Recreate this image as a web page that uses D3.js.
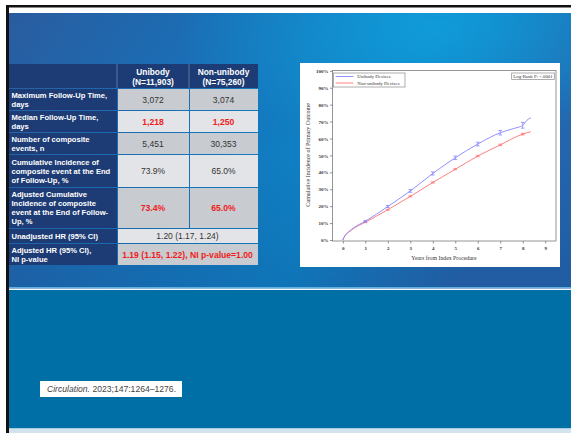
<!DOCTYPE html>
<html>
<head>
<meta charset="utf-8">
<script src="https://cdn.jsdelivr.net/npm/d3@7"></script>
<style>
  body { margin: 0; background: #fff; }
  svg { display: block; }
</style>
</head>
<body>
<svg width="571" height="433"></svg>
<script>
// ---- table data ----
const columnHeaders = [["Unibody", "(N=11,903)"], ["Non-unibody", "(N=75,260)"]];
const rowLabels = [
  ["Maximum Follow-Up Time,", "days"],
  ["Median Follow-Up Time,", "days"],
  ["Number of composite", "events, n"],
  ["Cumulative Incidence of", "composite event at the End", "of Follow-Up, %"],
  ["Adjusted Cumulative", "Incidence of composite", "event at the End of Follow-", "Up, %"],
  ["Unadjusted HR (95% CI)"],
  ["Adjusted HR (95% CI),", "NI p-value"]
];
const unibodyValues = ["3,072", "1,218", "5,451", "73.9%", "73.4%"];
const nonUnibodyValues = ["3,074", "1,250", "30,353", "65.0%", "65.0%"];
const hrValues = ["1.20 (1.17, 1.24)", "1.19 (1.15, 1.22), NI p-value=1.00"];
const redRows = [1, 4, 6];

// ---- chart data (cumulative incidence, %) ----
const unibodyYears = [0, 0.1, 0.25, 0.5, 1, 2, 3, 4, 5, 6, 7, 7.6, 8, 8.18, 8.36];
const unibodyPct = [0, 2.8, 4.8, 7.4, 11.1, 19.8, 29.0, 39.3, 48.6, 56.7, 63.4, 65.9, 67.8, 70.7, 72.3];
const nonUnibodyYears = [0, 0.1, 0.25, 0.5, 1, 2, 3, 4, 5, 6, 7, 8, 8.36];
const nonUnibodyPct = [0, 2.6, 4.5, 7.0, 10.5, 17.9, 25.8, 34.0, 41.8, 49.6, 56.2, 62.6, 64.0];
const ciYears = [1, 2, 3, 4, 5, 6, 7, 8];
const unibodyCI = [0.5, 0.6, 0.8, 0.9, 1.0, 1.1, 1.3, 1.7];
const nonUnibodyCI = [0.25, 0.3, 0.3, 0.35, 0.35, 0.4, 0.45, 0.5];
const xTicks = [0, 1, 2, 3, 4, 5, 6, 7, 8, 9];
const yTicks = [0, 10, 20, 30, 40, 50, 60, 70, 80, 90, 100];
const seriesNames = ["Unibody Devices", "Non-unibody Devices"];
const logRankText = "Log-Rank P: <.0001";
const citation = ["Circulation.", " 2023;147:1264\u20131276."];

const svg = d3.select("svg");
const defs = svg.append("defs");

// ---- slide background ----
const bg = defs.append("linearGradient").attr("id", "bg").attr("x1", 0).attr("y1", 0).attr("x2", 1).attr("y2", 0.3);
bg.append("stop").attr("offset", 0).attr("stop-color", "#2a5c9f");
bg.append("stop").attr("offset", 0.3).attr("stop-color", "#1c6cb3");
bg.append("stop").attr("offset", 0.72).attr("stop-color", "#0b86c9");
bg.append("stop").attr("offset", 1).attr("stop-color", "#2465ac");
const glow = defs.append("radialGradient").attr("id", "glow").attr("cx", 0.75).attr("cy", 0.05).attr("r", 0.45);
glow.append("stop").attr("offset", 0).attr("stop-color", "#12a0dc").attr("stop-opacity", 0.8);
glow.append("stop").attr("offset", 1).attr("stop-color", "#12a0dc").attr("stop-opacity", 0);
const shade = defs.append("linearGradient").attr("id", "shade").attr("x1", 0).attr("y1", 0).attr("x2", 0).attr("y2", 1);
shade.append("stop").attr("offset", 0.5).attr("stop-color", "#1a3f80").attr("stop-opacity", 0);
shade.append("stop").attr("offset", 1).attr("stop-color", "#1a3f80").attr("stop-opacity", 0.25);

svg.append("rect").attr("x", 6).attr("y", 5).attr("width", 565).attr("height", 2.5).attr("fill", "#111");
svg.append("rect").attr("x", 6).attr("y", 5).attr("width", 3).attr("height", 428).attr("fill", "#111");
svg.append("rect").attr("x", 9).attr("y", 13).attr("width", 562).attr("height", 276).attr("fill", "url(#bg)");
svg.append("rect").attr("x", 9).attr("y", 13).attr("width", 562).attr("height", 276).attr("fill", "url(#glow)");
svg.append("rect").attr("x", 9).attr("y", 13).attr("width", 562).attr("height", 276).attr("fill", "url(#shade)");
svg.append("rect").attr("x", 9).attr("y", 287).attr("width", 562).attr("height", 1.2).attr("fill", "#5fb0e0");
svg.append("rect").attr("x", 9).attr("y", 288.5).attr("width", 562).attr("height", 1.2).attr("fill", "#f2f8fc");
svg.append("rect").attr("x", 9).attr("y", 290).attr("width", 562).attr("height", 138.5).attr("fill", "#006fa6");
svg.append("rect").attr("x", 9).attr("y", 428.5).attr("width", 562).attr("height", 5).attr("fill", "#d3e3ee");

// citation
svg.append("rect").attr("x", 40).attr("y", 381).attr("width", 142).attr("height", 16).attr("fill", "#fff");
const cit = svg.append("text").attr("x", 47).attr("y", 392).attr("font-family", "Liberation Sans, Arial, sans-serif")
  .attr("font-size", 8.6).attr("fill", "#444");
cit.append("tspan").attr("font-style", "italic").text(citation[0]);
cit.append("tspan").text(citation[1]);

// ---- table ----
const tableFont = "Liberation Sans, Arial, sans-serif";
const navy = "#1d3b74";
const cellDark = "#c8cbd0";
const cellLight = "#e3e4e7";
const colX = [9, 117, 189, 258];
const rowH = [24, 21, 21, 21, 32, 40, 14, 21];
const rowY = [];
rowH.reduce((y, h) => { rowY.push(y); return y + h + 1; }, 64);
const lineH = 9;

const table = svg.append("g");
// header
table.append("rect").attr("x", colX[0]).attr("y", rowY[0]).attr("width", colX[3] - colX[0]).attr("height", rowH[0]).attr("fill", navy);
columnHeaders.forEach((lines, c) => {
  const cx = (colX[c + 1] + colX[c + 2]) / 2;
  table.append("text").attr("x", cx).attr("y", rowY[0] + 10.5).attr("text-anchor", "middle")
    .attr("font-family", tableFont).attr("font-weight", "bold").attr("font-size", 8.4).attr("fill", "#fff")
    .selectAll("tspan").data(lines).join("tspan").attr("x", cx).attr("dy", (d, i) => i ? 10 : 0).text(d => d);
});
table.append("line").attr("x1", colX[1]).attr("x2", colX[1]).attr("y1", rowY[0]).attr("y2", rowY[0] + rowH[0]).attr("stroke", "#6f86ad").attr("stroke-width", 0.8);
table.append("line").attr("x1", colX[2]).attr("x2", colX[2]).attr("y1", rowY[0]).attr("y2", rowY[0] + rowH[0]).attr("stroke", "#6f86ad").attr("stroke-width", 0.8);

rowLabels.forEach((lines, r) => {
  const y0 = rowY[r + 1], h = rowH[r + 1];
  const cy = y0 + h / 2;
  const fill = r % 2 === 0 ? cellDark : cellLight;
  const isRed = redRows.includes(r);
  table.append("rect").attr("x", colX[0]).attr("y", y0).attr("width", colX[1] - colX[0]).attr("height", h).attr("fill", navy);
  const firstBase = cy - (lines.length - 1) * lineH / 2 + 2.8;
  table.append("text").attr("font-family", tableFont).attr("font-weight", "bold").attr("font-size", 7.6).attr("fill", "#fff")
    .selectAll("tspan").data(lines).join("tspan").attr("x", colX[0] + 2.5).attr("y", (d, i) => firstBase + i * lineH).text(d => d);

  const valStyle = t => t.attr("text-anchor", "middle").attr("font-family", tableFont)
    .attr("font-size", isRed ? 8.6 : 8.5).attr("font-weight", isRed ? "bold" : "normal")
    .attr("fill", isRed ? "#f01c1c" : "#333");
  if (r < unibodyValues.length) {
    [unibodyValues[r], nonUnibodyValues[r]].forEach((v, c) => {
      table.append("rect").attr("x", colX[c + 1] + 1).attr("y", y0).attr("width", colX[c + 2] - colX[c + 1] - 1).attr("height", h).attr("fill", fill);
      table.append("text").attr("x", (colX[c + 1] + colX[c + 2]) / 2).attr("y", cy + 3).call(valStyle).text(v);
    });
  } else {
    table.append("rect").attr("x", colX[1] + 1).attr("y", y0).attr("width", colX[3] - colX[1] - 1).attr("height", h).attr("fill", fill);
    table.append("text").attr("x", (colX[1] + colX[3]) / 2).attr("y", cy + 3).call(valStyle).text(hrValues[r - unibodyValues.length]);
  }
});

// ---- KM chart ----
svg.append("rect").attr("x", 300).attr("y", 63).attr("width", 260).attr("height", 204).attr("fill", "#fff");

const plot = { left: 332.5, right: 556, top: 70.5, bottom: 241 };
const x = d3.scaleLinear().domain([-0.46, 9.48]).range([plot.left, plot.right]);
const y = d3.scaleLinear().domain([0, 100]).range([240, 70.8]);
const serif = "Liberation Serif, Times New Roman, serif";
const blue = "#8484ff";
const red = "#ff7474";

const chart = svg.append("g");
chart.append("rect").attr("x", plot.left).attr("y", plot.top).attr("width", plot.right - plot.left).attr("height", plot.bottom - plot.top)
  .attr("fill", "none").attr("stroke", "#8a8a8a").attr("stroke-width", 0.9);

const yAxisG = chart.append("g").attr("transform", `translate(${plot.left},0)`)
  .call(d3.axisLeft(y).tickValues(yTicks).tickSize(2.5).tickPadding(1.5).tickFormat(d => d + "%"));
const xAxisG = chart.append("g").attr("transform", `translate(0,${plot.bottom})`)
  .call(d3.axisBottom(x).tickValues(xTicks).tickSize(2.5).tickPadding(3));
[yAxisG, xAxisG].forEach(g => {
  g.select(".domain").remove();
  g.selectAll("line").attr("stroke", "#666").attr("stroke-width", 0.7);
  g.selectAll("text").attr("font-family", serif).attr("font-size", 5).attr("font-weight", "bold").attr("fill", "#333");
});

chart.append("text").attr("x", 444).attr("y", 260).attr("text-anchor", "middle")
  .attr("font-family", serif).attr("font-size", 5.8).attr("fill", "#333").text("Years from Index Procedure");
chart.append("text").attr("transform", "translate(309.5,155) rotate(-90)").attr("text-anchor", "middle")
  .attr("font-family", serif).attr("font-size", 6).attr("fill", "#333").text("Cumulative Incidence of Primary Outcome");

const line = d3.line().x(d => x(d[0])).y(d => y(d[1])).curve(d3.curveMonotoneX);
const series = [
  { name: seriesNames[0], pts: d3.zip(unibodyYears, unibodyPct), ci: unibodyCI, color: blue, ys: unibodyYears, vs: unibodyPct },
  { name: seriesNames[1], pts: d3.zip(nonUnibodyYears, nonUnibodyPct), ci: nonUnibodyCI, color: red, ys: nonUnibodyYears, vs: nonUnibodyPct }
];
series.slice().reverse().forEach(s => {
  chart.append("path").attr("d", line(s.pts)).attr("fill", "none").attr("stroke", s.color).attr("stroke-width", 0.9);
  const bars = chart.append("g").attr("stroke", s.color).attr("stroke-width", 0.8);
  ciYears.forEach((yr, i) => {
    const v = s.vs[s.ys.indexOf(yr)];
    const px = x(yr), y1 = y(v - s.ci[i]), y2 = y(v + s.ci[i]);
    bars.append("line").attr("x1", px).attr("x2", px).attr("y1", y1).attr("y2", y2);
    bars.append("line").attr("x1", px - 1.8).attr("x2", px + 1.8).attr("y1", y1).attr("y2", y1);
    bars.append("line").attr("x1", px - 1.8).attr("x2", px + 1.8).attr("y1", y2).attr("y2", y2);
  });
});

// legend
const legend = chart.append("g");
legend.append("rect").attr("x", 333.5).attr("y", 73).attr("width", 71.5).attr("height", 14)
  .attr("fill", "#fff").attr("stroke", "#8a8a8a").attr("stroke-width", 0.7);
series.forEach((s, i) => {
  const ly = 76.5 + i * 6.5;
  legend.append("line").attr("x1", 335.7).attr("x2", 353.3).attr("y1", ly).attr("y2", ly).attr("stroke", s.color).attr("stroke-width", 0.9);
  legend.append("text").attr("x", 357.3).attr("y", ly + 1.7).attr("font-family", serif).attr("font-size", 4.8).attr("fill", "#333").text(s.name);
});
legend.append("rect").attr("x", 511.7).attr("y", 73).attr("width", 42.6).attr("height", 6.6)
  .attr("fill", "#fff").attr("stroke", "#8a8a8a").attr("stroke-width", 0.7);
legend.append("text").attr("x", 533).attr("y", 78).attr("text-anchor", "middle").attr("font-family", serif)
  .attr("font-size", 4.8).attr("fill", "#333").text(logRankText);
</script>
</body>
</html>
